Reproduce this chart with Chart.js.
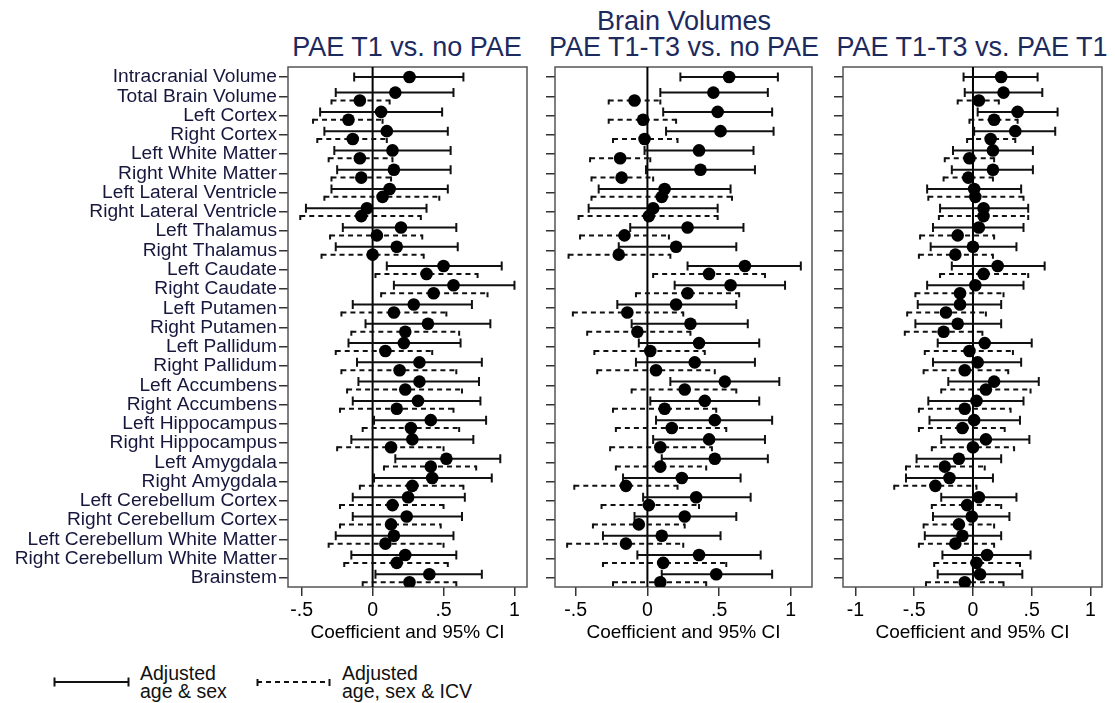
<!DOCTYPE html>
<html><head><meta charset="utf-8">
<script src="https://cdn.jsdelivr.net/npm/chart.js@4.4.1/dist/chart.umd.min.js"></script>
<style>
body{margin:0;background:#fff;width:1115px;height:703px;position:relative;overflow:hidden;font-family:"Liberation Sans",Arial,sans-serif;}
.t{position:absolute;color:#1d2a5e;font-size:27px;line-height:27px;white-space:nowrap;transform:translateX(-50%);}
.lg{position:absolute;color:#111;font-size:19.5px;line-height:18px;white-space:nowrap;}
canvas{position:absolute;}
</style></head><body>
<div class="t" style="left:684px;top:8px">Brain Volumes</div>
<div class="t" style="left:407px;top:34px">PAE T1 vs. no PAE</div>
<div class="t" style="left:684px;top:34px">PAE T1-T3 vs. no PAE</div>
<div class="t" style="left:972px;top:34px">PAE T1-T3 vs. PAE T1</div>
<canvas id="c1" width="537" height="597" style="left:0px;top:47px"></canvas>
<canvas id="c2" width="279" height="597" style="left:543px;top:47px"></canvas>
<canvas id="c3" width="281" height="597" style="left:831px;top:47px"></canvas>
<svg style="position:absolute;left:0;top:660px" width="400" height="43">
  <g stroke="#111" stroke-width="2" fill="none">
    <line x1="54.5" y1="22" x2="128.5" y2="22"/>
    <line x1="54.5" y1="17.5" x2="54.5" y2="26.5"/>
    <line x1="128.5" y1="17.5" x2="128.5" y2="26.5"/>
    <line x1="257" y1="22" x2="330" y2="22" stroke-dasharray="5,4"/>
    <line x1="257.5" y1="19" x2="257.5" y2="26"/>
    <line x1="329.5" y1="19" x2="329.5" y2="26"/>
  </g>
</svg>
<div class="lg" style="left:140px;top:664px">Adjusted<br>age &amp; sex</div>
<div class="lg" style="left:342px;top:664px">Adjusted<br>age, sex &amp; ICV</div>
<script>
const regions = ["Intracranial Volume","Total Brain Volume","Left Cortex","Right Cortex","Left White Matter","Right White Matter","Left Lateral Ventricle","Right Lateral Ventricle","Left Thalamus","Right Thalamus","Left Caudate","Right Caudate","Left Putamen","Right Putamen","Left Pallidum","Right Pallidum","Left Accumbens","Right Accumbens","Left Hippocampus","Right Hippocampus","Left Amygdala","Right Amygdala","Left Cerebellum Cortex","Right Cerebellum Cortex","Left Cerebellum White Matter","Right Cerebellum White Matter","Brainstem"];

const xTicksA = [-0.5, 0, 0.5, 1];
const xTicksB = [-1, -0.5, 0, 0.5, 1];
const xTitle = "Coefficient and 95% CI";

// Panel 1: PAE T1 vs. no PAE
const p1SexCoef = [0.26,0.16,0.06,0.10,0.14,0.15,0.12,-0.04,0.20,0.17,0.50,0.57,0.29,0.39,0.22,0.33,0.33,0.32,0.41,0.28,0.52,0.42,0.25,0.24,0.15,0.23,0.40];
const p1SexLo   = [-0.13,-0.26,-0.37,-0.34,-0.27,-0.25,-0.29,-0.47,-0.21,-0.26,0.10,0.15,-0.14,-0.05,-0.17,-0.11,-0.10,-0.14,0.01,-0.15,0.16,0.01,-0.14,-0.14,-0.26,-0.15,0.02];
const p1SexHi   = [0.64,0.57,0.49,0.53,0.55,0.55,0.53,0.38,0.59,0.60,0.91,1.00,0.70,0.83,0.62,0.77,0.75,0.76,0.80,0.71,0.90,0.84,0.65,0.63,0.57,0.59,0.77];
const p1IcvCoef = [null,-0.09,-0.17,-0.14,-0.09,-0.08,0.07,-0.08,0.03,0.00,0.38,0.43,0.15,0.23,0.09,0.19,0.23,0.17,0.27,0.13,0.41,0.28,0.14,0.13,0.09,0.17,0.26];
const p1IcvLo   = [null,-0.29,-0.42,-0.39,-0.31,-0.29,-0.34,-0.51,-0.30,-0.36,0.02,0.06,-0.22,-0.15,-0.26,-0.22,-0.18,-0.23,-0.07,-0.25,0.08,-0.09,-0.23,-0.23,-0.31,-0.20,-0.07];
const p1IcvHi   = [null,0.12,0.07,0.10,0.14,0.13,0.47,0.34,0.35,0.36,0.74,0.81,0.52,0.61,0.42,0.59,0.63,0.57,0.61,0.50,0.73,0.64,0.50,0.48,0.50,0.53,0.59];

// Panel 2: PAE T1-T3 vs. no PAE
const p2SexCoef = [0.57,0.46,0.49,0.51,0.36,0.37,0.12,0.04,0.28,0.20,0.68,0.58,0.20,0.30,0.36,0.33,0.54,0.40,0.47,0.43,0.47,0.24,0.34,0.26,0.10,0.36,0.48];
const p2SexLo   = [0.23,0.09,0.11,0.13,-0.02,-0.01,-0.34,-0.41,-0.12,-0.20,0.28,0.19,-0.21,-0.11,-0.06,-0.08,0.16,0.02,0.06,0.04,0.10,-0.17,-0.03,-0.09,-0.31,-0.07,0.10];
const p2SexHi   = [0.91,0.84,0.87,0.88,0.74,0.75,0.58,0.49,0.67,0.62,1.07,0.96,0.62,0.70,0.78,0.75,0.92,0.78,0.87,0.82,0.84,0.65,0.72,0.62,0.51,0.79,0.87];
const p2IcvCoef = [null,-0.09,-0.03,-0.02,-0.19,-0.18,0.10,0.01,-0.16,-0.20,0.43,0.28,-0.14,-0.07,0.02,0.06,0.26,0.12,0.17,0.09,0.09,-0.15,0.01,-0.06,-0.15,0.11,0.09];
const p2IcvLo   = [null,-0.27,-0.27,-0.24,-0.40,-0.39,-0.39,-0.48,-0.47,-0.55,0.04,-0.08,-0.52,-0.42,-0.37,-0.35,-0.11,-0.24,-0.22,-0.26,-0.22,-0.51,-0.32,-0.38,-0.56,-0.31,-0.24];
const p2IcvHi   = [null,0.09,0.20,0.21,0.02,0.04,0.59,0.49,0.15,0.16,0.82,0.64,0.25,0.30,0.40,0.47,0.62,0.48,0.55,0.45,0.41,0.21,0.36,0.26,0.25,0.55,0.41];

// Panel 3: PAE T1-T3 vs. PAE T1
const p3SexCoef = [0.24,0.26,0.38,0.36,0.17,0.17,0.01,0.09,0.05,0.00,0.21,0.02,-0.11,-0.13,0.10,0.04,0.18,0.03,0.01,0.11,-0.12,-0.20,0.05,-0.01,-0.09,0.12,0.06];
const p3SexLo   = [-0.08,-0.07,0.04,0.01,-0.17,-0.18,-0.39,-0.28,-0.34,-0.36,-0.18,-0.39,-0.47,-0.49,-0.30,-0.34,-0.21,-0.38,-0.37,-0.27,-0.48,-0.57,-0.27,-0.34,-0.41,-0.26,-0.30];
const p3SexHi   = [0.55,0.59,0.72,0.70,0.51,0.51,0.41,0.47,0.43,0.37,0.61,0.43,0.24,0.24,0.50,0.41,0.56,0.43,0.40,0.48,0.24,0.17,0.37,0.31,0.24,0.49,0.42];
const p3IcvCoef = [null,0.05,0.18,0.15,-0.03,-0.04,0.02,0.09,-0.13,-0.15,0.09,-0.11,-0.23,-0.25,-0.03,-0.07,0.11,-0.07,-0.09,0.00,-0.24,-0.32,-0.05,-0.12,-0.15,0.03,-0.07];
const p3IcvLo   = [null,-0.13,-0.03,-0.05,-0.24,-0.25,-0.38,-0.29,-0.45,-0.46,-0.28,-0.49,-0.56,-0.58,-0.41,-0.42,-0.27,-0.46,-0.46,-0.35,-0.57,-0.67,-0.35,-0.42,-0.46,-0.33,-0.40];
const p3IcvHi   = [null,0.22,0.38,0.36,0.18,0.17,0.43,0.47,0.18,0.17,0.47,0.26,0.11,0.08,0.34,0.30,0.49,0.32,0.27,0.35,0.10,0.03,0.24,0.18,0.18,0.40,0.26];

const FONT = '"Liberation Sans", Arial, sans-serif';
const SOLID_OFF = -0.19, DASH_OFF = 0.22;

function buildPoints(coef, lo, hi, off) {
  const pts = [];
  coef.forEach((c, i) => {
    if (c === null) return;
    const o = (i === 0 && off < 0) ? 0 : off;
    pts.push({x: c, y: i + o, lo: lo[i], hi: hi[i]});
  });
  return pts;
}

const errPlugin = {
  id: 'errbars',
  beforeDatasetsDraw(chart) {
    const {ctx, chartArea: a, scales: {x, y}} = chart;
    ctx.save();
    ctx.strokeStyle = '#555'; ctx.lineWidth = 1.5;
    ctx.strokeRect(a.left, a.top, a.right - a.left, a.bottom - a.top);
    const x0 = x.getPixelForValue(0);
    ctx.strokeStyle = '#000'; ctx.lineWidth = 2;
    ctx.beginPath(); ctx.moveTo(x0, a.top); ctx.lineTo(x0, a.bottom); ctx.stroke();
    chart.data.datasets.forEach(ds => {
      ctx.strokeStyle = '#111'; ctx.lineWidth = 2;
      ds.data.forEach(p => {
        const yy = y.getPixelForValue(p.y);
        const xl = x.getPixelForValue(p.lo), xh = x.getPixelForValue(p.hi);
        ctx.setLineDash(ds.dashed ? [5, 4] : []);
        ctx.beginPath(); ctx.moveTo(xl, yy); ctx.lineTo(xh, yy); ctx.stroke();
        ctx.setLineDash([]);
        ctx.beginPath();
        if (ds.dashed) {
          ctx.moveTo(xl, yy - 1); ctx.lineTo(xl, yy + 4);
          ctx.moveTo(xh, yy - 1); ctx.lineTo(xh, yy + 4);
        } else {
          ctx.moveTo(xl, yy - 4.5); ctx.lineTo(xl, yy + 4.5);
          ctx.moveTo(xh, yy - 4.5); ctx.lineTo(xh, yy + 4.5);
        }
        ctx.stroke();
      });
    });
    ctx.restore();
  }
};

function fmt(v) {
  if (v === 0) return '0';
  const s = String(Math.abs(v)).replace(/^0/, '');
  return (v < 0 ? '-' : '') + s;
}

function makePanel(id, yW, xMin, xMax, xTicks, showLabels, sc, sl, sh, ic, il, ih) {
  return new Chart(document.getElementById(id), {
    type: 'scatter',
    data: {
      datasets: [
        {label: 'Adjusted age & sex', data: buildPoints(sc, sl, sh, SOLID_OFF), dashed: false,
         pointRadius: 6.3, pointBackgroundColor: '#000', pointBorderWidth: 0, pointHoverRadius: 6.3},
        {label: 'Adjusted age, sex & ICV', data: buildPoints(ic, il, ih, DASH_OFF), dashed: true,
         pointRadius: 6.3, pointBackgroundColor: '#000', pointBorderWidth: 0, pointHoverRadius: 6.3}
      ]
    },
    options: {
      responsive: false, animation: false, devicePixelRatio: 1,
      layout: {padding: {top: 20, right: 10, bottom: 0, left: 0}},
      plugins: {legend: {display: false}, tooltip: {enabled: false}},
      scales: {
        x: {
          type: 'linear', position: 'bottom', min: xMin, max: xMax,
          afterBuildTicks: s => { s.ticks = xTicks.map(v => ({value: v})); },
          afterFit: s => { s.height = 57; },
          grid: {drawOnChartArea: false, drawTicks: true, tickLength: 9, color: '#333', lineWidth: 1.5},
          border: {display: false},
          ticks: {callback: v => fmt(v), color: '#000', font: {family: FONT, size: 19.5}, padding: 3, maxRotation: 0, autoSkip: false},
          title: {display: true, text: xTitle, color: '#000', font: {family: FONT, size: 19}, padding: {top: 0, bottom: 0}}
        },
        y: {
          type: 'linear', position: 'left', reverse: true, min: -0.52, max: 26.47,
          afterBuildTicks: s => { s.ticks = regions.map((_, i) => ({value: i})); },
          afterFit: s => { s.width = yW; },
          grid: {drawOnChartArea: false, drawTicks: true, tickLength: 9, color: '#333', lineWidth: 1.5},
          border: {display: false},
          ticks: {display: showLabels, callback: v => regions[v], color: '#17173d', font: {family: FONT, size: 19.2}, padding: 2, autoSkip: false}
        }
      }
    },
    plugins: [errPlugin]
  });
}

makePanel('c1', 288, -0.5965, 1.0883, xTicksA, true, p1SexCoef, p1SexLo, p1SexHi, p1IcvCoef, p1IcvLo, p1IcvHi);
makePanel('c2', 12, -0.6446, 1.148, xTicksA, false, p2SexCoef, p2SexLo, p2SexHi, p2IcvCoef, p2IcvLo, p2IcvHi);
makePanel('c3', 12, -1.106, 1.098, xTicksB, false, p3SexCoef, p3SexLo, p3SexHi, p3IcvCoef, p3IcvLo, p3IcvHi);
</script>
</body></html>
